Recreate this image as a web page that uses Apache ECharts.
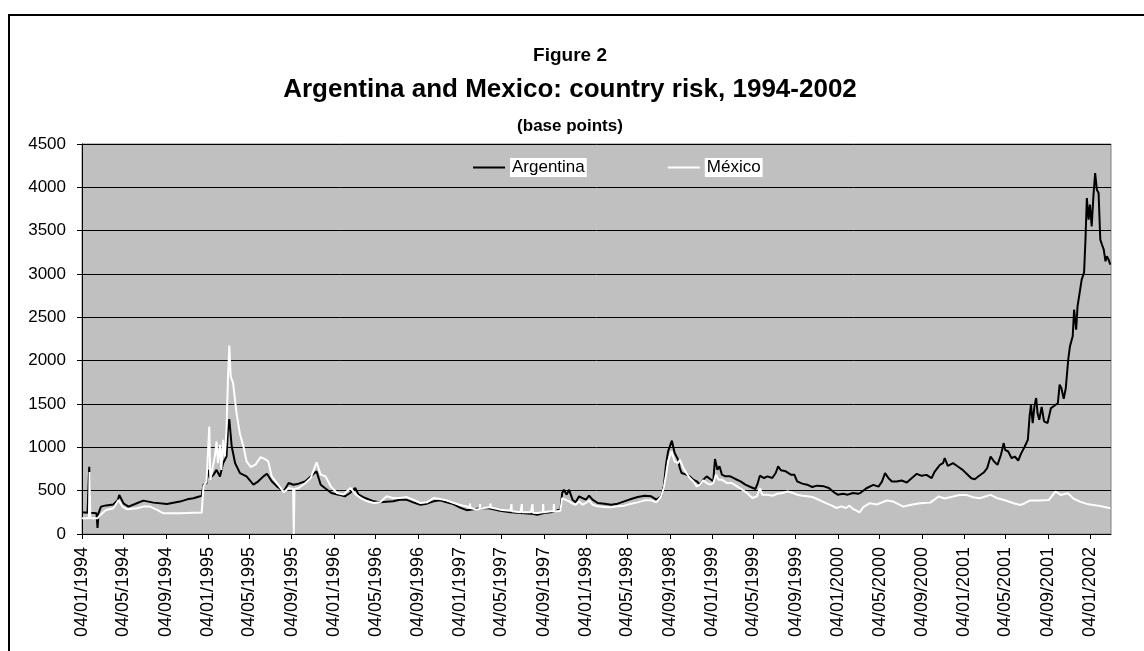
<!DOCTYPE html>
<html>
<head>
<meta charset="utf-8">
<script src="https://cdn.jsdelivr.net/npm/echarts@6/dist/echarts.min.js"></script>
<style>
html,body{margin:0;padding:0;background:#ffffff;}
#chart{width:1144px;height:651px;}
</style>
</head>
<body>
<div id="chart"></div>
<script>
// ---- Data ----
const seriesNames = ['Argentina', 'México'];

const argDates = [
'1994-01-04','1994-01-20','1994-01-25','1994-01-27','1994-02-15','1994-02-18','1994-02-21','1994-02-28','1994-03-15','1994-04-05',
'1994-04-18','1994-04-22','1994-05-05','1994-05-19','1994-06-12','1994-07-01','1994-07-30','1994-09-07','1994-10-15','1994-11-05',
'1994-11-23','1994-12-10','1994-12-17','1994-12-22','1994-12-31','1995-01-05','1995-01-10','1995-01-20','1995-01-29','1995-02-08',
'1995-02-17','1995-02-27','1995-03-03','1995-03-07','1995-03-14','1995-03-24','1995-04-07','1995-04-26','1995-05-16','1995-05-30',
'1995-06-14','1995-06-24','1995-07-08','1995-07-23','1995-08-12','1995-08-26','1995-09-09','1995-09-24','1995-10-14','1995-10-29',
'1995-11-15','1995-11-27','1995-12-09','1995-12-28','1996-01-17','1996-02-05','1996-02-20','1996-03-06','1996-03-16','1996-04-04',
'1996-04-29','1996-05-17','1996-06-24','1996-07-13','1996-08-01','1996-08-21','1996-09-11','1996-09-30','1996-10-19','1996-11-07',
'1996-11-26','1996-12-15','1997-01-04','1997-01-23','1997-02-12','1997-03-13','1997-04-01','1997-04-30','1997-05-30','1997-06-28',
'1997-07-28','1997-08-16','1997-09-04','1997-09-24','1997-10-13','1997-10-22','1997-10-27','1997-11-01','1997-11-09','1997-11-16',
'1997-11-26','1997-12-05','1997-12-15','1997-12-25','1998-01-04','1998-01-13','1998-01-23','1998-02-07','1998-02-26','1998-03-18',
'1998-04-06','1998-04-25','1998-05-15','1998-06-03','1998-06-23','1998-07-12','1998-07-27','1998-08-10','1998-08-18','1998-08-24',
'1998-08-30','1998-09-04','1998-09-10','1998-09-18','1998-09-28','1998-10-03','1998-10-08','1998-10-22','1998-11-01','1998-11-11',
'1998-11-21','1998-12-01','1998-12-10','1998-12-20','1998-12-30','1999-01-08','1999-01-13','1999-01-20','1999-01-26','1999-02-02',
'1999-02-12','1999-02-26','1999-03-13','1999-03-28','1999-04-11','1999-04-26','1999-05-10','1999-05-17','1999-05-23','1999-06-04',
'1999-06-14','1999-06-28','1999-07-08','1999-07-15','1999-07-23','1999-08-06','1999-08-21','1999-08-31','1999-09-08','1999-09-23',
'1999-10-07','1999-10-22','1999-11-05','1999-11-25','1999-12-09','1999-12-24','2000-01-04','2000-01-19','2000-02-02','2000-02-17',
'2000-03-03','2000-03-10','2000-03-27','2000-04-16','2000-05-01','2000-05-11','2000-05-20','2000-05-30','2000-06-09','2000-06-23',
'2000-07-07','2000-07-22','2000-08-05','2000-08-20','2000-09-03','2000-09-17','2000-10-02','2000-10-11','2000-10-26','2000-11-04',
'2000-11-09','2000-11-18','2000-12-03','2000-12-17','2000-12-31','2001-01-10','2001-01-25','2001-02-04','2001-02-14','2001-03-02',
'2001-03-12','2001-03-22','2001-04-01','2001-04-11','2001-04-21','2001-04-29','2001-05-03','2001-05-12','2001-05-22','2001-05-31',
'2001-06-10','2001-06-19','2001-06-29','2001-07-08','2001-07-13','2001-07-17','2001-07-22','2001-07-27','2001-08-01','2001-08-05',
'2001-08-10','2001-08-17','2001-08-24','2001-09-03','2001-09-13','2001-09-23','2001-10-03','2001-10-08','2001-10-13','2001-10-20',
'2001-10-26','2001-11-02','2001-11-07','2001-11-15','2001-11-19','2001-11-25','2001-11-29','2001-12-05','2001-12-11','2001-12-18',
'2001-12-22','2001-12-26','2001-12-31','2002-01-04','2002-01-09','2002-01-14','2002-01-19','2002-01-24','2002-01-29','2002-02-03',
'2002-02-08','2002-02-13','2002-02-18','2002-02-22','2002-02-27','2002-03-04'
];
const argValues = [
250,245,775,245,240,70,240,316,330,340,
393,450,350,316,355,385,362,347,374,400,
412,432,440,567,586,740,644,682,740,663,
817,894,1200,1326,1010,817,702,665,569,608,
665,696,608,550,492,588,569,581,608,665,
723,569,531,473,454,435,473,531,454,415,
377,365,377,396,396,365,338,350,377,388,
365,345,305,275,285,300,295,269,250,242,
235,223,242,250,273,281,473,511,454,511,
396,365,435,415,396,442,396,358,350,338,
350,377,404,427,442,435,396,435,560,800,
954,960,1077,935,858,762,704,685,665,627,
608,569,627,665,635,608,865,742,781,685,
665,665,635,608,569,542,519,588,673,646,
665,646,704,781,735,723,685,685,608,581,
569,542,558,550,531,481,454,465,454,473,
465,475,528,567,547,605,702,644,605,605,
617,594,644,694,671,682,644,721,798,817,
875,786,817,779,740,702,644,632,663,709,
760,894,837,798,914,1049,971,952,875,894,
848,933,1010,1087,1357,1492,1280,1473,1569,1396,
1318,1465,1299,1280,1453,1480,1511,1723,1685,1560,
1685,2012,2165,2281,2588,2358,2627,2781,2935,3019,
3396,3877,3627,3800,3550,3896,4165,3973,3935,3396,
3338,3281,3146,3204,3165,3108
];

const mexDates = [
'1994-01-04','1994-01-24','1994-01-26','1994-01-28','1994-02-18','1994-02-26','1994-03-15','1994-04-05','1994-04-20','1994-05-01',
'1994-05-15','1994-06-12','1994-07-01','1994-07-20','1994-08-10','1994-08-28','1994-10-15','1994-12-17','1994-12-22','1994-12-31',
'1995-01-08','1995-01-11','1995-01-24','1995-01-29','1995-02-02','1995-02-08','1995-02-12','1995-02-17','1995-02-22','1995-02-27',
'1995-03-03','1995-03-07','1995-03-11','1995-03-18','1995-03-28','1995-04-07','1995-04-17','1995-04-26','1995-05-08','1995-05-22',
'1995-06-06','1995-06-20','1995-06-28','1995-07-08','1995-07-23','1995-08-12','1995-08-26','1995-09-08','1995-09-10','1995-09-12',
'1995-09-24','1995-10-14','1995-10-29','1995-11-15','1995-11-27','1995-12-11','1995-12-26','1996-01-13','1996-02-01','1996-02-21',
'1996-03-08','1996-03-22','1996-04-10','1996-04-29','1996-05-17','1996-06-05','1996-06-24','1996-07-13','1996-08-01','1996-08-21',
'1996-09-11','1996-09-30','1996-10-19','1996-11-07','1996-11-26','1996-12-15','1997-01-04','1997-01-23','1997-02-01','1997-02-02',
'1997-02-03','1997-02-21','1997-03-02','1997-03-03','1997-03-04','1997-03-13','1997-04-01','1997-04-02','1997-04-03','1997-04-30',
'1997-05-30','1997-06-01','1997-06-02','1997-06-03','1997-06-28','1997-07-01','1997-07-02','1997-07-03','1997-07-28','1997-08-01',
'1997-08-02','1997-08-03','1997-08-16','1997-09-01','1997-09-02','1997-09-03','1997-09-24','1997-10-02','1997-10-03','1997-10-04',
'1997-10-13','1997-10-22','1997-10-27','1997-11-01','1997-11-16','1997-11-26','1997-12-05','1997-12-15','1997-12-25','1998-01-04',
'1998-01-13','1998-01-23','1998-02-07','1998-02-26','1998-03-18','1998-04-06','1998-04-25','1998-05-15','1998-06-03','1998-06-23',
'1998-07-12','1998-07-27','1998-08-10','1998-08-18','1998-08-24','1998-08-30','1998-09-04','1998-09-09','1998-09-18','1998-09-28',
'1998-10-03','1998-10-13','1998-10-22','1998-11-01','1998-11-11','1998-11-21','1998-12-01','1998-12-10','1998-12-20','1998-12-30',
'1999-01-08','1999-01-16','1999-01-23','1999-02-02','1999-02-17','1999-03-03','1999-03-18','1999-04-02','1999-04-16','1999-05-01',
'1999-05-15','1999-05-23','1999-05-30','1999-06-14','1999-06-28','1999-07-13','1999-07-28','1999-08-12','1999-08-27','1999-09-08',
'1999-09-23','1999-10-07','1999-10-22','1999-11-05','1999-11-20','1999-12-04','1999-12-18','1999-12-31','2000-01-14','2000-01-28',
'2000-02-07','2000-02-17','2000-02-26','2000-03-07','2000-03-18','2000-04-06','2000-04-26','2000-05-25','2000-06-13','2000-07-12',
'2000-07-31','2000-08-29','2000-09-28','2000-10-22','2000-11-09','2000-12-03','2000-12-22','2001-01-10','2001-01-30','2001-02-18',
'2001-03-22','2001-04-11','2001-04-30','2001-05-28','2001-06-16','2001-06-29','2001-07-13','2001-08-10','2001-09-07','2001-09-26',
'2001-10-11','2001-11-01','2001-11-16','2001-12-06','2001-12-26','2002-01-14','2002-02-03','2002-03-04'
];
const mexValues = [
181,181,715,181,181,220,278,297,393,316,
285,297,316,316,278,239,239,247,547,605,
1241,624,894,1068,817,1030,740,1087,894,1200,
1780,2174,1820,1742,1395,1150,1011,838,773,800,
888,860,838,665,588,481,531,519,0,519,
531,588,646,827,685,665,550,473,454,531,
454,415,377,358,365,435,415,415,427,396,
358,365,415,404,388,360,335,319,300,350,
300,281,290,345,290,300,308,350,305,281,
269,265,345,262,250,250,345,250,250,245,
345,245,242,250,345,250,262,262,345,262,
262,269,415,435,377,350,338,377,338,358,
388,338,319,312,308,319,327,350,365,388,
388,365,435,540,680,838,838,954,838,819,
858,762,704,646,608,550,569,619,588,569,
588,685,627,627,588,588,550,511,473,415,
435,531,454,454,442,465,473,492,473,454,
442,435,427,404,377,350,327,300,319,300,
327,288,273,250,310,355,340,386,374,316,
335,355,362,432,409,432,451,451,424,412,
451,412,393,355,335,355,386,386,393,490,
451,470,412,374,347,335,324,297
];

// x-axis tick labels (every four months) and axis range
const xTickDates = [
'1994-01-04','1994-05-04','1994-09-04','1995-01-04','1995-05-04','1995-09-04','1996-01-04','1996-05-04','1996-09-04',
'1997-01-04','1997-05-04','1997-09-04','1998-01-04','1998-05-04','1998-09-04','1999-01-04','1999-05-04','1999-09-04',
'2000-01-04','2000-05-04','2000-09-04','2001-01-04','2001-05-04','2001-09-04','2002-01-04'
];
const xRange = ['1994-01-04', '2002-03-06'];
const yRange = [0, 4500];
const yStep = 500;

// ---- helpers ----
function ts(s) {
  const p = s.split('-').map(Number);
  return Date.UTC(p[0], p[1] - 1, p[2]);
}
function pad(n) { return (n < 10 ? '0' : '') + n; }
function fmt(v) {
  const d = new Date(v);
  return pad(d.getUTCDate()) + '/' + pad(d.getUTCMonth() + 1) + '/' + d.getUTCFullYear();
}

const argData = argDates.map((d, i) => [ts(d), argValues[i]]);
const mexData = mexDates.map((d, i) => [ts(d), mexValues[i]]);
const tickValues = xTickDates.map(ts);

const FONT = 'Liberation Sans, Arial, sans-serif';

const chart = echarts.init(document.getElementById('chart'), null, { renderer: 'canvas' });
chart.setOption({
  animation: false,
  backgroundColor: '#ffffff',
  graphic: [{
    type: 'rect',
    shape: { x: 9, y: 15, width: 1200, height: 700 },
    style: { fill: 'none', stroke: '#000000', lineWidth: 2 },
    silent: true
  }],
  title: [
    { text: 'Figure 2', left: 565, textAlign: 'center', top: 41,
      textStyle: { fontFamily: FONT, fontWeight: 'bold', fontSize: 19, color: '#000' } },
    { text: 'Argentina and Mexico: country risk, 1994-2002', left: 565, textAlign: 'center', top: 72,
      textStyle: { fontFamily: FONT, fontWeight: 'bold', fontSize: 26, color: '#000' } },
    { text: '(base points)', left: 565, textAlign: 'center', top: 113,
      textStyle: { fontFamily: FONT, fontWeight: 'bold', fontSize: 17, color: '#000' } }
  ],
  legend: {
    data: seriesNames,
    left: 473,
    top: 158,
    padding: 0,
    icon: 'rect',
    itemWidth: 32,
    itemHeight: 2,
    itemGap: 81,
    textStyle: { fontFamily: FONT, fontSize: 17, color: '#000', backgroundColor: '#ffffff', padding: [1, 2] }
  },
  grid: {
    left: 82, right: 33, top: 144, bottom: 117,
    show: true, backgroundColor: '#C0C0C0', borderColor: '#808080', borderWidth: 1
  },
  xAxis: {
    type: 'value',
    min: ts(xRange[0]),
    max: ts(xRange[1]),
    axisLine: { show: true, lineStyle: { color: '#000', width: 1 } },
    axisTick: { show: true, length: 5, lineStyle: { color: '#000' }, customValues: tickValues },
    axisLabel: {
      show: true, rotate: 90, margin: 13, fontFamily: FONT, fontSize: 18, color: '#000',
      customValues: tickValues,
      formatter: function (v) { return fmt(v); },
      showMinLabel: true, showMaxLabel: true
    },
    splitLine: { show: false }
  },
  yAxis: {
    type: 'value',
    min: yRange[0], max: yRange[1], interval: yStep,
    axisLine: { show: true, lineStyle: { color: '#000', width: 1 } },
    axisTick: { show: true, length: 5, lineStyle: { color: '#000' } },
    axisLabel: { margin: 16, fontFamily: FONT, fontSize: 17, color: '#000',
      formatter: function (v) { return String(v); } },
    splitLine: { show: true, lineStyle: { color: '#000', width: 1 } }
  },
  series: [
    { name: seriesNames[0], type: 'line', data: argData, showSymbol: false, symbol: 'none',
      lineStyle: { color: '#000000', width: 2 }, itemStyle: { color: '#000000' }, z: 2 },
    { name: seriesNames[1], type: 'line', data: mexData, showSymbol: false, symbol: 'none',
      lineStyle: { color: '#ffffff', width: 2 }, itemStyle: { color: '#ffffff' }, z: 3 }
  ]
});
</script>
</body>
</html>
